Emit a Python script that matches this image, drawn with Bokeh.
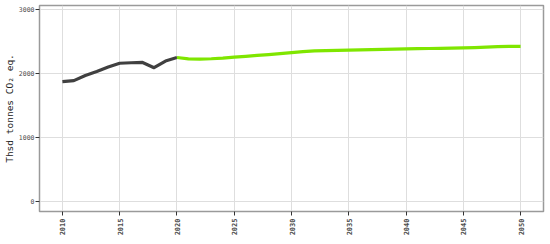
import math
from bokeh.plotting import figure
from bokeh.models import Range1d, FixedTicker
from bokeh.embed import file_html
from bokeh.resources import INLINE

hist_years = [2010, 2011, 2012, 2013, 2014, 2015, 2016, 2017, 2018, 2019, 2020]
hist_values = [1873, 1888, 1968, 2030, 2100, 2160, 2168, 2172, 2090, 2194, 2250]

proj_years = list(range(2020, 2051))
proj_values = [2250, 2228, 2225, 2230, 2240, 2255, 2268, 2282, 2296, 2310, 2325,
               2340, 2352, 2358, 2362, 2366, 2370, 2374, 2378, 2381, 2384,
               2387, 2390, 2393, 2396, 2400, 2405, 2411, 2419, 2424, 2422]

x_ticks = [2010, 2015, 2020, 2025, 2030, 2035, 2040, 2045, 2050]
y_ticks = [0, 1000, 2000, 3000]

FONT = "DejaVu Sans Mono"

p = figure(width=545, height=238, output_backend="svg", toolbar_location=None,
           x_range=Range1d(2008, 2052), y_range=Range1d(-156, 3062),
           min_border_left=30, min_border_right=2, min_border_top=5, min_border_bottom=0)

p.line(hist_years, hist_values, line_color="#404040", line_width=3.2, line_join="round")
p.line(proj_years, proj_values, line_color="#7FE600", line_width=3.2, line_join="round")

p.outline_line_color = "#9a9a9a"
p.outline_line_width = 1.5

p.xaxis.ticker = FixedTicker(ticks=x_ticks)
p.yaxis.ticker = FixedTicker(ticks=y_ticks)
p.xgrid.ticker = FixedTicker(ticks=x_ticks)
p.ygrid.ticker = FixedTicker(ticks=y_ticks)
p.grid.grid_line_color = "#dedede"
p.grid.grid_line_width = 1

for ax in (p.xaxis, p.yaxis):
    ax.axis_line_color = None
    ax.major_tick_line_color = "#333333"
    ax.major_tick_out = 4
    ax.major_tick_in = 0
    ax.minor_tick_line_color = None
    ax.major_label_text_font = FONT
    ax.major_label_text_color = "#4d4d4d"

p.xaxis.major_label_text_font_size = "7px"
p.xaxis.major_label_standoff = 3
p.yaxis.major_label_text_font_size = "6.5px"
p.yaxis.major_label_standoff = 1

p.xaxis.major_label_orientation = math.pi / 2
p.xaxis.major_label_text_font_style = "bold"
p.yaxis.axis_label = "Thsd tonnes CO₂ eq."
p.yaxis.axis_label_text_font = FONT
p.yaxis.axis_label_text_font_size = "9.5px"
p.yaxis.axis_label_text_font_style = "normal"
p.yaxis.axis_label_text_color = "#222222"
p.yaxis.axis_label_standoff = 1

open("out.html", "w").write(file_html(p, INLINE))
